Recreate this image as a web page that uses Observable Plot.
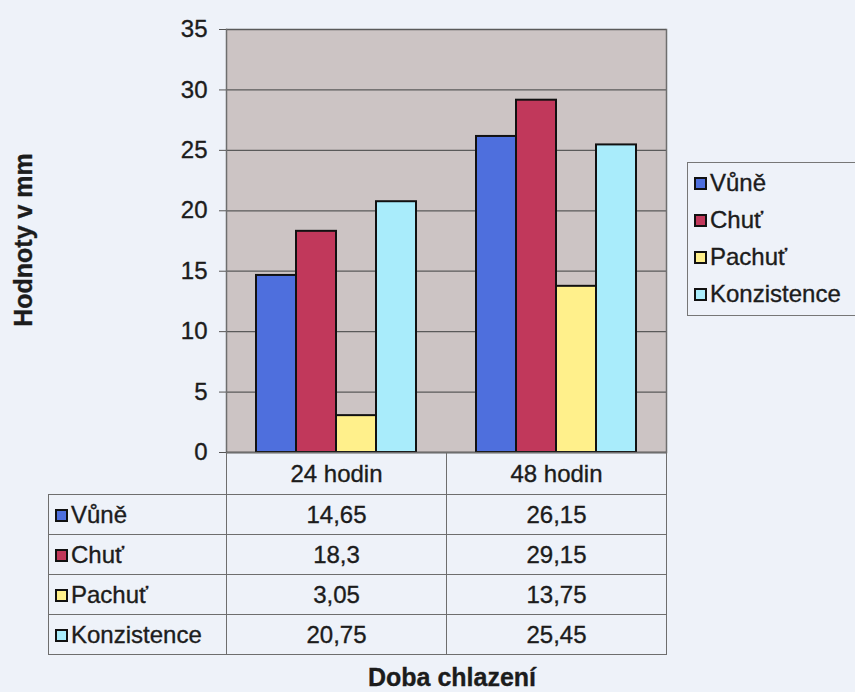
<!DOCTYPE html>
<html>
<head>
<meta charset="utf-8">
<script src="https://cdn.jsdelivr.net/npm/d3@7"></script>
<script src="https://cdn.jsdelivr.net/npm/@observablehq/plot@0.6"></script>
<style>
  html, body { margin: 0; padding: 0; background: #eef2f9; }
  #wrap { position: relative; width: 855px; height: 692px; overflow: hidden;
          font-family: "Liberation Sans", Arial, sans-serif; color: #1c1c1c; }
  #wrap div, #wrap td { -webkit-text-stroke: 0.35px #1c1c1c; }
  #chart { position: absolute; left: 0; top: 0; }
  #chart text { stroke: #1c1c1c; stroke-width: 0.35px; }
  .ytitle { position: absolute; left: 23px; top: 240px; transform: translate(-50%, -50%) rotate(-90deg);
            font-weight: bold; font-size: 25px; white-space: nowrap; }
  .xtitle { position: absolute; left: 452px; top: 677px; transform: translate(-50%, -50%);
            font-weight: bold; font-size: 25px; white-space: nowrap; }
  table.data { position: absolute; left: 48px; top: 452px; border-collapse: collapse; table-layout: fixed;
               width: 618px; font-size: 24px; }
  table.data td { border: 1.5px solid #6e6e6e; padding: 0; height: 39px; text-align: center; white-space: nowrap; }
  table.data tr.head td { height: 41px; }
  table.data td.blank { border-left: none; border-top: none; }
  table.data td.name { text-align: left; padding-left: 6px; }
  .sw { display: inline-block; width: 9px; height: 9px; border: 2px solid #111; margin-right: 3px; vertical-align: 1px;
        -webkit-text-stroke: 0; }
  .legend { position: absolute; left: 687px; top: 162px; width: 170px; height: 154px; box-sizing: border-box;
            border: 1.5px solid #777; font-size: 24px; padding-top: 5px; padding-left: 6px; }
  .legend div { height: 37px; line-height: 30px; white-space: nowrap; }
</style>
</head>
<body>
<div id="wrap"></div>
<script>
// Cooling time groups and the four evaluated attributes
const times = ["24 hodin", "48 hodin"];
const series = ["Vůně", "Chuť", "Pachuť", "Konzistence"];
const values24 = [14.65, 18.3, 3.05, 20.75];
const values48 = [26.15, 29.15, 13.75, 25.45];
const colors = ["#4e6fdd", "#c1385b", "#fff08b", "#a9ecfb"];
const yTicks = [0, 5, 10, 15, 20, 25, 30, 35];

const rows = [];
series.forEach((s, i) => {
  rows.push({time: times[0], series: s, value: values24[i]});
  rows.push({time: times[1], series: s, value: values48[i]});
});

const fmt = v => String(v).replace(".", ",");

const chart = Plot.plot({
  width: 855,
  height: 692,
  marginLeft: 226,
  marginRight: 189,
  marginTop: 29,
  marginBottom: 240,
  style: {fontFamily: '"Liberation Sans", Arial, sans-serif', background: "transparent", color: "#1c1c1c"},
  fx: {domain: times, padding: 0, axis: null},
  x: {domain: series, paddingInner: 0, paddingOuter: 0.72, axis: null},
  y: {domain: [0, 35], axis: null},
  color: {domain: series, range: colors},
  marks: [
    Plot.frame({fill: "#ccc4c4", stroke: null, insetLeft: -0.5, insetRight: -0.5}),
    Plot.gridY(yTicks, {stroke: "#5a5a5a", strokeOpacity: 1, strokeWidth: 1.3}),
    // outer edges of the plotting area: left edge of the first group, right edge of the last
    Plot.frame({anchor: "left", fx: () => times[0], stroke: "#6e6e6e", strokeWidth: 1.5}),
    Plot.frame({anchor: "right", fx: () => times[times.length - 1], stroke: "#6e6e6e", strokeWidth: 1.5}),
    Plot.barY(rows, {fx: "time", x: "series", y: "value", fill: "series", stroke: "#111", strokeWidth: 2}),
    Plot.ruleY([0], {stroke: "#444", strokeWidth: 1.5}),
    Plot.axisY(yTicks, {anchor: "left", tickSize: 7, tickPadding: 12, fontSize: 24, stroke: "#555", label: null})
  ]
});
chart.id = "chart";

const wrap = document.getElementById("wrap");
wrap.appendChild(chart);

// Y and X titles
const yt = document.createElement("div");
yt.className = "ytitle";
yt.textContent = "Hodnoty v mm";
wrap.appendChild(yt);
const xt = document.createElement("div");
xt.className = "xtitle";
xt.textContent = "Doba chlazení";
wrap.appendChild(xt);

// Data table under the bars
const swatch = c => `<span class="sw" style="background:${c}"></span>`;
let html = `<colgroup><col style="width:178px"><col style="width:220px"><col style="width:220px"></colgroup>`;
html += `<tr class="head"><td class="blank"></td>${times.map(t => `<td>${t}</td>`).join("")}</tr>`;
series.forEach((s, i) => {
  html += `<tr><td class="name">${swatch(colors[i])}${s}</td><td>${fmt(values24[i])}</td><td>${fmt(values48[i])}</td></tr>`;
});
const table = document.createElement("table");
table.className = "data";
table.innerHTML = html;
wrap.appendChild(table);

// Legend
const legend = document.createElement("div");
legend.className = "legend";
legend.innerHTML = series.map((s, i) => `<div>${swatch(colors[i])}${s}</div>`).join("");
wrap.appendChild(legend);
</script>
</body>
</html>
